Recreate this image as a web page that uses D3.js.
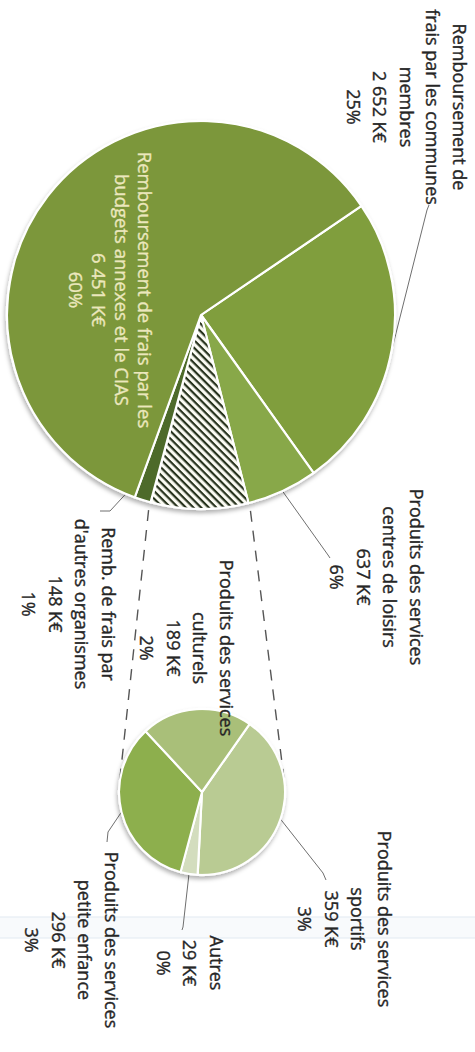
<!DOCTYPE html>
<html>
<head>
<meta charset="utf-8">
<script src="https://cdn.jsdelivr.net/npm/d3@7"></script>
<style>
  html, body { margin: 0; padding: 0; background: #fff; }
  svg { display: block; }
  text { font-family: "Open Sans", "Noto Sans", sans-serif; }
</style>
</head>
<body>
<svg id="chart" width="475" height="1052"></svg>
<script>
// ---- Recettes (K€) ----
// Main pie, in drawing order (clockwise)
const mainKeys   = ["communes", "loisirs", "services", "organismes", "cias"];
const mainNames  = [
  ["Remboursement de", "frais par les communes", "membres"],
  ["Produits des services", "centres de loisirs"],
  null,
  ["Remb. de frais par", "d'autres organismes"],
  ["Remboursement de frais par les", "budgets annexes et le CIAS"]
];
const mainKnown  = [2652, 637, null, 148, 6451];

// Breakdown of the hatched slice (second pie)
const detailKeys   = ["sportifs", "autres", "enfance", "culturels"];
const detailNames  = [
  ["Produits des services", "sportifs"],
  ["Autres"],
  ["Produits des services", "petite enfance"],
  ["Produits des services", "culturels"]
];
const detailValues = [359, 29, 296, 189];

// the hatched slice is the sum of its breakdown
const mainValues = mainKnown.map(v => v === null ? d3.sum(detailValues) : v);
const total = d3.sum(mainValues);

// ---- styles & layout ----
const W = 475, H = 1052;
const mainColors   = ["#809e3e", "#88a848", "url(#hatch)", "#4d6a29", "#7b973a"];
const detailColors = ["#b9cb93", "#d3ddbe", "#8daf4d", "#a9bf79"];
const big   = { cx: 315, cy: 274, r: 194, start: -34.2 };
const small = { cx: 792, cy: 273, r: 83,  start: -55 };

const labelPos = {
  communes:   { x: 107, y: 17 },
  cias:       { x: 290, y: 332, lh: 23, fs: 18.5, fill: "#ebe7bd" },
  loisirs:    { x: 577, y: 60 },
  organismes: { x: 604, y: 368 },
  sportifs:   { x: 919, y: 92 },
  autres:     { x: 963, y: 260 },
  enfance:    { x: 940, y: 365 },
  culturels:  { x: 648, y: 250 }
};
const leaderPos = {
  communes:   { frac: 1.0, pts: [[210, 48], [205, 46]] },
  loisirs:    { frac: 1.0, pts: [[555, 147], [558, 145]] },
  organismes: { frac: 0.8, pts: [[511, 365], [511, 375]] },
  sportifs:   { frac: 1.0, pts: [[873, 152], [880, 149]] },
  autres:     { frac: 1.0, pts: [[927, 292], [930, 293]] },
  enfance:    { frac: 1.0, pts: [[832, 367], [842, 368]] }
};
const FS = 18, LH = 26.5;

const nf = d3.formatLocale({ decimal: ",", thousands: " ", grouping: [3], currency: ["", ""] }).format(",");
const keLabel  = v => nf(v) + " K€";
const pctLabel = v => Math.round(v / total * 100) + "%";
const rad = d => d * Math.PI / 180;

const svg = d3.select("#chart");
const defs = svg.append("defs");

const pat = defs.append("pattern")
  .attr("id", "hatch").attr("patternUnits", "userSpaceOnUse")
  .attr("width", 5.4).attr("height", 5.4)
  .attr("patternTransform", "rotate(45)");
pat.append("rect").attr("width", 5.4).attr("height", 5.4).attr("fill", "#fbfbf3");
pat.append("rect").attr("width", 2.2).attr("height", 5.4).attr("fill", "#27321e");

const flt = defs.append("filter").attr("id", "shadow")
  .attr("x", "-10%").attr("y", "-10%").attr("width", "125%").attr("height", "125%");
flt.append("feDropShadow").attr("dx", 3).attr("dy", 1).attr("stdDeviation", 2)
  .attr("flood-color", "#000").attr("flood-opacity", 0.3);

// faint band of the printed page
svg.append("rect").attr("x", 0).attr("y", 917).attr("width", W).attr("height", 21).attr("fill", "#f8fafc");
[917, 938].forEach(y => svg.append("line").attr("x1", 0).attr("x2", W).attr("y1", y).attr("y2", y)
  .attr("stroke", "#e1e9f2").attr("stroke-width", 1.2));

// whole chart is laid out landscape, then turned a quarter clockwise
const g = svg.append("g").attr("transform", `translate(${W},0) rotate(90)`);

function makePie(cfg, values) {
  return d3.pie().sort(null).value(d => d)
    .startAngle(rad(cfg.start)).endAngle(rad(cfg.start) + 2 * Math.PI)(values);
}
const bigArcs   = makePie(big, mainValues);
const smallArcs = makePie(small, detailValues);

const pt = (cfg, a, r) => [cfg.cx + r * Math.sin(a), cfg.cy - r * Math.cos(a)];
const mid = d => (d.startAngle + d.endAngle) / 2;

// leader lines (under the pies)
const leaderGen = d3.line();
function drawLeader(key, cfg, arcDatum) {
  const L = leaderPos[key];
  if (!L) return;
  const p0 = pt(cfg, mid(arcDatum), cfg.r * L.frac);
  g.append("path").attr("d", leaderGen([p0, ...L.pts]))
    .attr("fill", "none").attr("stroke", "#6f6f6f").attr("stroke-width", 1);
}
bigArcs.forEach((d, i) => drawLeader(mainKeys[i], big, d));
smallArcs.forEach((d, i) => drawLeader(detailKeys[i], small, d));

// dashed connectors from the hatched slice to the second pie
const hatched = bigArcs[2];
function tangent(P, C, r, side) {
  const vx = P[0] - C.cx, vy = P[1] - C.cy;
  const d = Math.hypot(vx, vy);
  const phi = Math.atan2(vy, vx), del = Math.acos(r / d);
  const cands = [phi + del, phi - del].map(a => [C.cx + r * Math.cos(a), C.cy + r * Math.sin(a)]);
  return side > 0 ? d3.greatest(cands, c => c[1]) : d3.least(cands, c => c[1]);
}
[[hatched.startAngle, -1], [hatched.endAngle, 1]].forEach(([a, side]) => {
  const P = pt(big, a, big.r + 8);
  const T = tangent(P, small, small.r, side);
  g.append("line").attr("x1", P[0]).attr("y1", P[1]).attr("x2", T[0]).attr("y2", T[1])
    .attr("stroke", "#555").attr("stroke-width", 1.4).attr("stroke-dasharray", "11,9");
});

// pies
function drawPie(cfg, arcs, colors) {
  const arc = d3.arc().innerRadius(0).outerRadius(cfg.r);
  const pg = g.append("g").attr("transform", `translate(${cfg.cx},${cfg.cy})`).attr("filter", "url(#shadow)");
  pg.selectAll("path").data(arcs).join("path")
    .attr("d", arc)
    .attr("fill", (d, i) => colors[i])
    .attr("stroke", "#fff").attr("stroke-width", 2.2).attr("stroke-linejoin", "round");
}
drawPie(big, bigArcs, mainColors);
drawPie(small, smallArcs, detailColors);

// labels
function drawLabel(key, names, value) {
  const P = labelPos[key];
  if (!P || !names) return;
  const lines = [...names, keLabel(value), pctLabel(value)];
  const lh = P.lh || LH;
  const col = P.fill || "#262626";
  const t = g.append("text").attr("text-anchor", "middle")
    .attr("font-size", P.fs || FS).attr("fill", col)
    .attr("stroke", col).attr("stroke-width", 0.35);
  lines.forEach((s, i) => t.append("tspan").attr("x", P.x).attr("y", P.y + i * lh + 5.5).text(s));
}
mainKeys.forEach((k, i) => drawLabel(k, mainNames[i], mainValues[i]));
detailKeys.forEach((k, i) => drawLabel(k, detailNames[i], detailValues[i]));
</script>
</body>
</html>
